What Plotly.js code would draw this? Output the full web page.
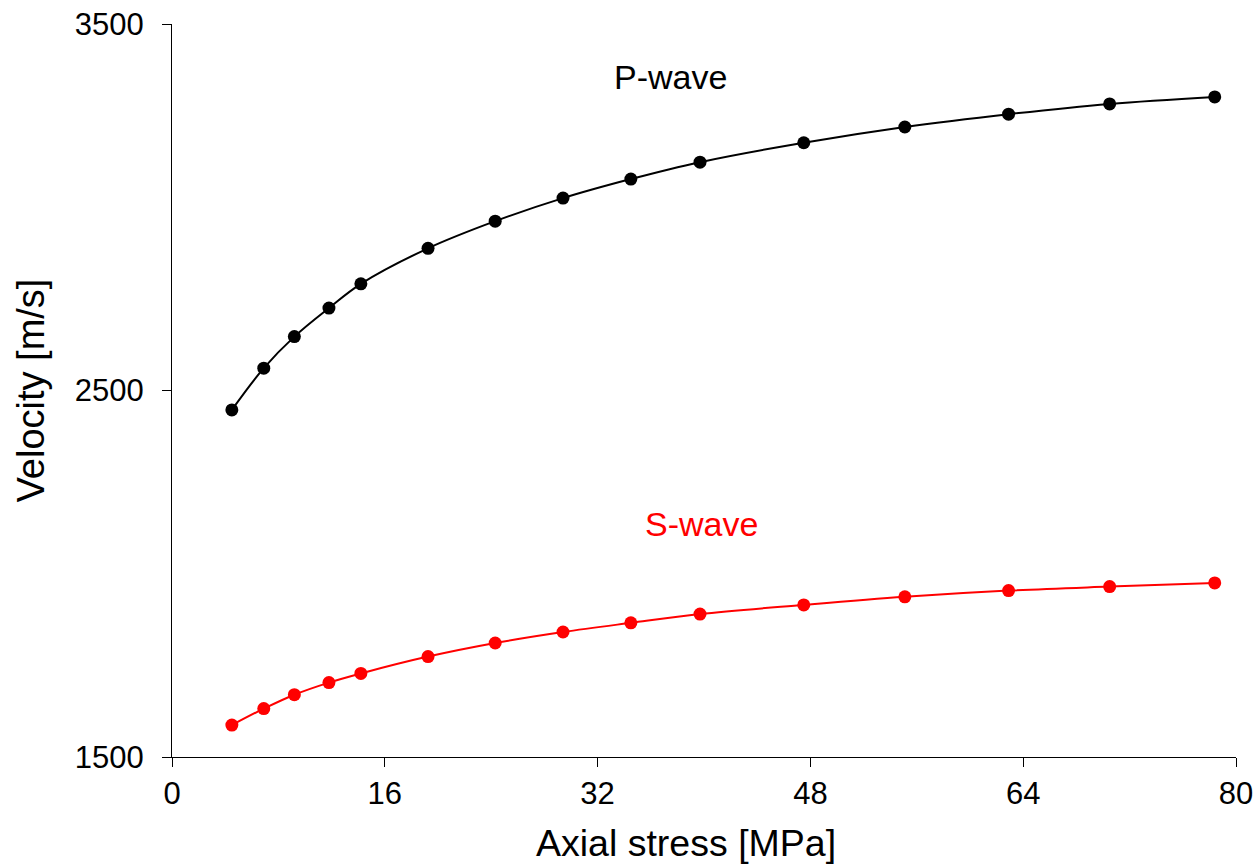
<!DOCTYPE html>
<html>
<head>
<meta charset="utf-8">
<script src="https://cdn.plot.ly/plotly-3.0.1.min.js"></script>
<style>html,body{margin:0;padding:0;background:#fff;}#chart{width:1258px;height:867px;}</style>
</head>
<body>
<div id="chart"></div>
<script>
const stress = [4.5, 6.9, 9.2, 11.8, 14.2, 19.25, 24.3, 29.4, 34.5, 39.7, 47.5, 55.1, 62.9, 70.5, 78.4];
const pWave = [2447, 2561, 2647, 2725, 2791, 2888, 2962, 3025, 3077, 3123, 3176, 3219, 3254, 3282, 3301];
const sWave = [1587, 1632, 1670, 1703, 1728, 1774, 1811, 1841, 1866, 1890, 1915, 1937, 1954, 1965, 1975];
const xTicks = [0, 16, 32, 48, 64, 80];
const yTicks = [1500, 2500, 3500];

const font = "Liberation Sans, Arial, sans-serif";
const traces = [
  {x: stress, y: pWave, mode: 'lines+markers', name: 'P-wave',
   line: {color: '#000000', width: 2, shape: 'spline'},
   marker: {color: '#000000', size: 13}},
  {x: stress, y: sWave, mode: 'lines+markers', name: 'S-wave',
   line: {color: '#ff0000', width: 2, shape: 'spline'},
   marker: {color: '#ff0000', size: 13}}
];
const layout = {
  width: 1258, height: 867,
  margin: {l: 172, r: 22, t: 24, b: 110},
  paper_bgcolor: '#fff', plot_bgcolor: '#fff',
  showlegend: false,
  font: {family: font, color: '#000'},
  xaxis: {
    range: [0, 80], tickvals: xTicks, ticktext: xTicks.map(String),
    showgrid: false, zeroline: false, showline: true, linecolor: '#000', linewidth: 1,
    ticks: 'outside', ticklen: 9, tickcolor: '#000', tickwidth: 1,
    tickfont: {size: 31, family: font}, ticklabelstandoff: 0
  },
  yaxis: {
    range: [1500, 3500], tickvals: yTicks, ticktext: yTicks.map(String),
    showgrid: false, zeroline: false, showline: true, linecolor: '#000', linewidth: 1,
    ticks: 'outside', ticklen: 9, tickcolor: '#000', tickwidth: 1,
    tickfont: {size: 31, family: font}, ticklabelstandoff: 12,
    title: {text: 'Velocity [m/s]', font: {size: 38, family: font}, standoff: 18}
  },
  annotations: [
    {x: 0.483, y: -0.1173, xref: 'paper', yref: 'paper', text: 'Axial stress [MPa]',
     showarrow: false, xanchor: 'center', yanchor: 'middle',
     font: {size: 37.5, color: '#000', family: font}},
    {x: 37.5, y: 3355, xref: 'x', yref: 'y', text: 'P-wave', showarrow: false,
     font: {size: 34, color: '#000', family: font}},
    {x: 39.8, y: 2136, xref: 'x', yref: 'y', text: 'S-wave', showarrow: false,
     font: {size: 34, color: '#ff0000', family: font}}
  ]
};
Plotly.newPlot('chart', traces, layout, {displayModeBar: false, staticPlot: true});
</script>
</body>
</html>
